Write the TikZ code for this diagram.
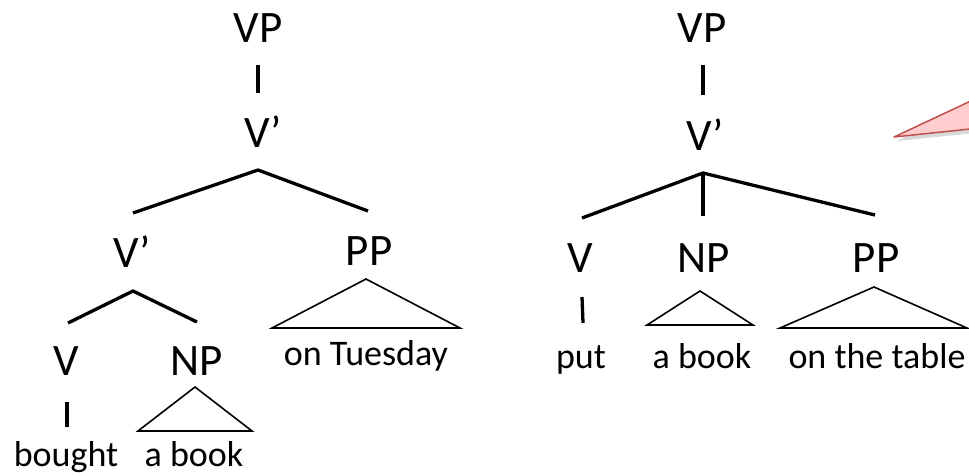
\documentclass[tikz,border=0pt]{standalone}
\usepackage{fontspec}
\setmainfont{Carlito}
\definecolor{callfill}{HTML}{FFCDCD}
\definecolor{calldraw}{HTML}{C0504D}
\begin{document}
\begin{tikzpicture}[x=1pt,y=-1pt,
  lab/.style={anchor=base,inner sep=0pt,font=\fontsize{45}{45}\selectfont},
  word/.style={anchor=base,inner sep=0pt,font=\fontsize{36}{36}\selectfont},
  branch/.style={line width=3.3pt},
  tri/.style={line width=1.6pt,line join=miter},
  callout/.style={fill=callfill,draw=calldraw,line width=1.5pt,line join=round}]
\useasboundingbox (0,0) rectangle (969,475);
% callout (partly off the picture)
\begin{scope}
\clip (0,0) rectangle (969,475);
\fill[black,opacity=0.15] (897,141) -- (975,104) -- (975,133) -- cycle;
\draw[callout] (894,137) -- (975,99) -- (975,128.5) -- cycle;
\end{scope}
% ---------- left tree ----------
\node[lab] (lVP) at (258,42) {VP};
\node[lab] (lVb) at (263,147) {V’};
\node[lab] (lVc) at (132,267) {V’};
\node[lab] (lPP) at (369,265) {PP};
\node[lab] (lV) at (66,375) {V};
\node[lab] (lNP) at (197,375) {NP};
\node[word] (lonT) at (366,365) {on Tuesday};
\node[word] (lbought) at (66,466) {bought};
\node[word] (labook) at (194,466) {a book};
\coordinate (l1a) at (258,65); \coordinate (l1b) at (258,93);
\coordinate (l2apex) at (258,170); \coordinate (l2l) at (133,213); \coordinate (l2r) at (368,211);
\coordinate (l3apex) at (133,291); \coordinate (l3l) at (68,323); \coordinate (l3r) at (197,322);
\coordinate (l4a) at (67,402); \coordinate (l4b) at (67,427);
\draw[branch] (l1a) -- (l1b);
\draw[branch] (l2l) -- (l2apex) -- (l2r);
\draw[branch] (l3l) -- (l3apex) -- (l3r);
\draw[branch] (l4a) -- (l4b);
\coordinate (lt1) at (366,279); \coordinate (lt1l) at (272,328); \coordinate (lt1r) at (460,328);
\draw[tri] (lt1l) -- (lt1) -- (lt1r) -- cycle;
\coordinate (lt2) at (195,387); \coordinate (lt2l) at (138,431); \coordinate (lt2r) at (252,431);
\draw[tri] (lt2l) -- (lt2) -- (lt2r) -- cycle;
% ---------- right tree ----------
\node[lab] (rVP) at (702,42) {VP};
\node[lab] (rVb) at (705,150) {V’};
\node[lab] (rV) at (580,272) {V};
\node[lab] (rNP) at (704,272) {NP};
\node[lab] (rPP) at (876,272) {PP};
\node[word] (rput) at (581,368) {put};
\node[word] (rabook) at (702,368) {a book};
\node[word] (rtable) at (877,368) {on the table};
\coordinate (r1a) at (703,65); \coordinate (r1b) at (703,95);
\coordinate (r2apex) at (703,173); \coordinate (r2l) at (582,218); \coordinate (r2m) at (703,216); \coordinate (r2r) at (875,215);
\coordinate (r3a) at (582,297); \coordinate (r3b) at (583,323);
\draw[branch] (r1a) -- (r1b);
\draw[branch] (r2l) -- (r2apex) -- (r2r);
\draw[branch] (r2apex) -- (r2m);
\draw[branch] (r3a) -- (r3b);
\coordinate (rt1) at (700,291); \coordinate (rt1l) at (647,325); \coordinate (rt1r) at (753,325);
\draw[tri] (rt1l) -- (rt1) -- (rt1r) -- cycle;
\coordinate (rt2) at (874,287); \coordinate (rt2l) at (780,328); \coordinate (rt2r) at (967,328);
\draw[tri] (rt2l) -- (rt2) -- (rt2r) -- cycle;
\end{tikzpicture}
\end{document}
